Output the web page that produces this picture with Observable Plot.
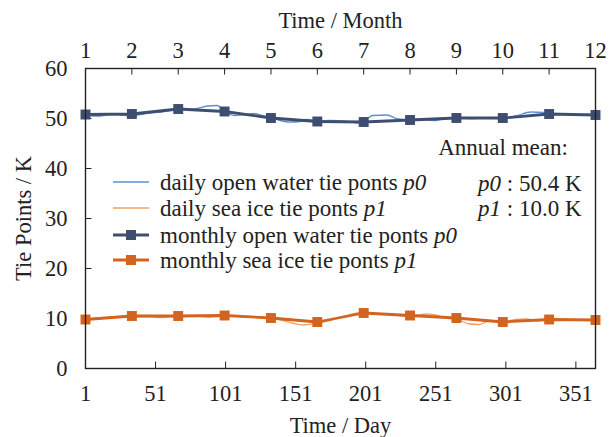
<!DOCTYPE html>
<html><head><meta charset="utf-8">
<script src="https://cdn.jsdelivr.net/npm/d3@7"></script>
<script src="https://cdn.jsdelivr.net/npm/@observablehq/plot@0.6"></script>
<style>body{margin:0;background:#fff}</style>
</head><body><div id="chart"></div>
<script>
// ---- data ----
const months = [1,2,3,4,5,6,7,8,9,10,11,12];
const monthlyP0 = [50.8,50.9,51.9,51.4,50.1,49.4,49.3,49.7,50.1,50.1,50.9,50.7];
const monthlyP1 = [9.8,10.5,10.5,10.6,10.1,9.3,11.1,10.6,10.1,9.3,9.8,9.7];
const dailyDaysP0 = [1,12,19,26,34,44,55,67,79,88,95,100,107,115,121,127,133,140,147,154,159,167,176,187,195,199,206,216,224,232,240,251,258,266,276,286,299,308,319,328,331,342,351,361,365];
const dailyP0 =     [50.6,50.5,50.9,50.7,50.5,51.0,51.3,51.8,51.9,52.5,52.6,51.6,50.6,50.8,51.0,50.6,50.2,49.6,49.3,49.4,49.8,49.5,49.6,49.4,49.1,49.3,50.6,50.7,49.9,49.7,49.8,49.6,50.0,50.2,50.0,50.1,50.0,50.5,51.3,51.2,50.8,50.8,50.7,50.8,50.6];
const dailyDaysP1 = [1,12,22,34,45,55,67,80,90,100,112,122,133,142,150,157,165,175,185,193,199,207,218,232,245,252,258,266,275,282,290,299,308,316,323,331,342,352,365];
const dailyP1 =     [9.9,10.1,10.3,10.3,10.4,10.2,10.4,10.5,10.3,10.6,10.4,10.3,10.1,9.6,9.0,8.7,9.0,9.6,10.4,11.0,11.2,10.9,10.8,10.4,10.9,10.6,10.1,9.9,8.9,8.8,9.6,9.3,9.8,9.9,9.5,9.8,9.8,9.7,9.7];
const dayTicks = [1,51,101,151,201,251,301,351];
const yTicks = [0,10,20,30,40,50,60];
const legendLabels = [
  ["daily open water tie ponts ", "p0"],
  ["daily sea ice tie ponts ", "p1"],
  ["monthly open water tie ponts ", "p0"],
  ["monthly sea ice tie ponts ", "p1"]
];
const annualMeanTitle = "Annual mean:";
const annualMeans = [["p0", " : 50.4 K"], ["p1", " : 10.0 K"]];

// ---- colours ----
const cDailyP0 = "#5f8fd3", cDailyP1 = "#f2a05e", cMonP0 = "#3e4e70", cMonP1 = "#d2641f";
const FONT = "'Liberation Serif', 'Times New Roman', serif";

// month m sits at evenly spaced positions along the day axis (1..365)
const monthDay = m => 1 + (m - 1) * 364 / 11;
const monthTickPos = months.map(monthDay);

const dP0 = dailyDaysP0.map((d, i) => ({day: d, v: dailyP0[i]}));
const dP1 = dailyDaysP1.map((d, i) => ({day: d, v: dailyP1[i]}));
const mP0 = months.map((m, i) => ({day: monthDay(m), v: monthlyP0[i]}));
const mP1 = months.map((m, i) => ({day: monthDay(m), v: monthlyP1[i]}));

const plot = Plot.plot({
  width: 611, height: 437,
  marginLeft: 85, marginRight: 16, marginTop: 68, marginBottom: 69,
  style: {fontFamily: FONT, fontSize: "22.5px", color: "#222", background: "#fff"},
  x: {domain: [1, 365]},
  y: {domain: [0, 60]},
  marks: [
    Plot.axisY({ticks: yTicks, tickSize: 0, tickPadding: 18, label: "Tie Points / K", labelAnchor: "center", labelArrow: "none", labelOffset: 70}),
    Plot.axisX({anchor: "bottom", ticks: dayTicks, tickSize: 0, tickPadding: 17, label: "Time / Day", labelAnchor: "center", labelArrow: "none", labelOffset: 64}),
    Plot.axisX({anchor: "top", ticks: monthTickPos, tickFormat: d => months[monthTickPos.findIndex(p => Math.abs(p - d) < 1e-6)], tickSize: 0, tickPadding: 11, label: "Time / Month", labelAnchor: "center", labelArrow: "none", labelOffset: 56}),
    // inward tick marks
    Plot.ruleX(dayTicks.slice(1), {x: d => d, y1: 0, y2: 1.3, stroke: "#222"}),
    Plot.ruleX(monthTickPos.slice(1, -1), {x: d => d, y1: 60, y2: 58.7, stroke: "#222"}),
    Plot.ruleY(yTicks.slice(1, -1), {y: d => d, x1: 1, x2: 5.6, stroke: "#222"}),
    Plot.line(dP0, {x: "day", y: "v", stroke: cDailyP0, strokeWidth: 1.3, curve: "monotone-x"}),
    Plot.line(dP1, {x: "day", y: "v", stroke: cDailyP1, strokeWidth: 1.3, curve: "monotone-x"}),
    Plot.line(mP0, {x: "day", y: "v", stroke: cMonP0, strokeWidth: 2.8}),
    Plot.dot(mP0, {x: "day", y: "v", symbol: "square", r: 5.6, fill: cMonP0, stroke: "none"}),
    Plot.line(mP1, {x: "day", y: "v", stroke: cMonP1, strokeWidth: 2.8}),
    Plot.dot(mP1, {x: "day", y: "v", symbol: "square", r: 5.6, fill: cMonP1, stroke: "none"}),
    Plot.frame({stroke: "#222", strokeWidth: 1.4})
  ]
});
document.getElementById("chart").appendChild(plot);

// ---- legend & annotation ----
const svg = d3.select(plot.tagName.toLowerCase() === "svg" ? plot : plot.querySelector("svg"));
const lg = svg.append("g").attr("font-family", FONT).attr("fill", "#222").attr("text-anchor", "start");
const rowY = [182, 208, 235, 260];
const legStyle = [
  {c: cDailyP0, w: 1.3, mk: false},
  {c: cDailyP1, w: 1.3, mk: false},
  {c: cMonP0, w: 2.8, mk: true},
  {c: cMonP1, w: 2.8, mk: true}
];
legendLabels.forEach((lab, i) => {
  const y = rowY[i], s = legStyle[i];
  lg.append("line").attr("x1", 113).attr("x2", 149).attr("y1", y).attr("y2", y).attr("stroke", s.c).attr("stroke-width", s.w);
  if (s.mk) lg.append("rect").attr("x", 126).attr("y", y - 5).attr("width", 10).attr("height", 10).attr("fill", s.c);
  const t = lg.append("text").attr("x", 160).attr("y", y).attr("dy", "0.35em").attr("font-size", 23);
  t.append("tspan").text(lab[0]);
  t.append("tspan").attr("font-style", "italic").text(lab[1]);
});
lg.append("text").attr("x", 503).attr("y", 147).attr("dy", "0.35em").attr("font-size", 23).attr("text-anchor", "middle").text(annualMeanTitle);
[183, 208].forEach((y, i) => {
  const t = lg.append("text").attr("x", 478).attr("y", y).attr("dy", "0.35em").attr("font-size", 23);
  t.append("tspan").attr("font-style", "italic").text(annualMeans[i][0]);
  t.append("tspan").text(annualMeans[i][1]);
});
</script>
</body></html>
